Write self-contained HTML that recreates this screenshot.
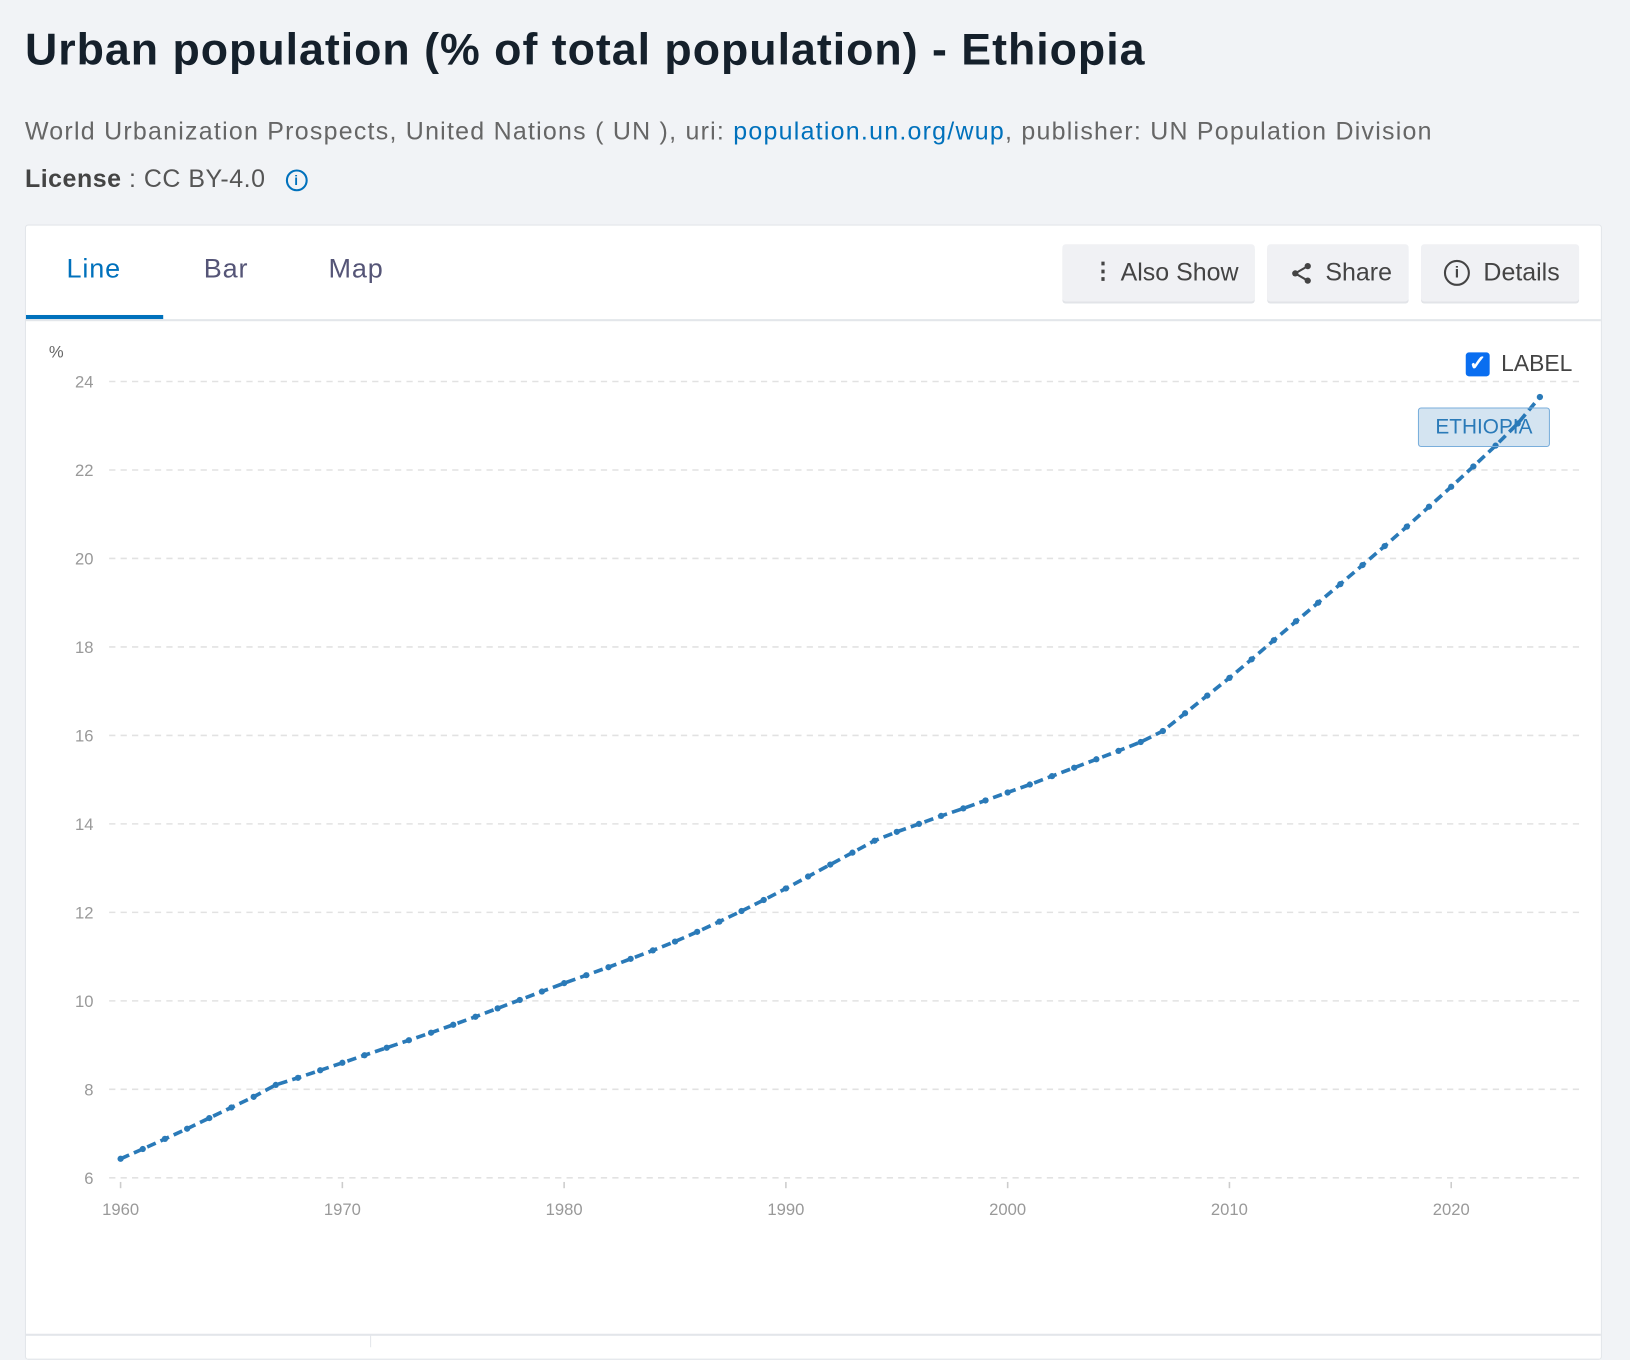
<!DOCTYPE html>
<html><head><meta charset="utf-8"><style>
html,body{margin:0;padding:0;width:1630px;height:1344px;overflow:hidden;background:#f1f3f6;font-family:"Liberation Sans",sans-serif}
#wrap{position:absolute;left:0;top:0;width:1568px;height:1293px;transform:scale(1.03954);transform-origin:0 0}
.abs{position:absolute;white-space:nowrap}
.btn{position:absolute;top:235px;height:55px;background:#f0f1f4;border-radius:3px;box-shadow:0 2px 0 #e2e4e8;font-size:24px;color:#444;line-height:55px}
</style></head><body>
<div id="wrap">
<div class="abs" style="left:24px;top:24px;font-size:43px;font-weight:bold;color:#15202b;letter-spacing:0.95px">Urban population (% of total population) - Ethiopia</div>
<div class="abs" style="left:24px;top:113px;font-size:24px;color:#666;letter-spacing:1.2px">World Urbanization Prospects, United Nations ( UN ), uri: <span style="color:#0071bc">population.un.org/wup</span>, publisher: UN Population Division</div>
<div class="abs" style="left:24px;top:159px;font-size:24px;color:#555;letter-spacing:0.5px"><b style="color:#444">License</b> : CC BY-4.0 <span style="display:inline-block;width:17px;height:17px;border:2px solid #0071bc;border-radius:50%;color:#0071bc;font-size:13px;line-height:17px;text-align:center;font-weight:bold;margin-left:12px;vertical-align:2px">i</span></div>
<div style="position:absolute;left:24px;top:216px;width:1515px;height:1090px;background:#fff;border:1px solid #e3e6ea;border-radius:3px"></div>
<div class="abs" style="left:64px;top:243px;font-size:26px;color:#0071bc;letter-spacing:0.8px">Line</div>
<div style="position:absolute;left:25px;top:303px;width:132px;height:4px;background:#0071bc"></div>
<div class="abs" style="left:196px;top:243px;font-size:26px;color:#557;letter-spacing:0.8px">Bar</div>
<div class="abs" style="left:316px;top:243px;font-size:26px;color:#557;letter-spacing:0.8px">Map</div>
<div style="position:absolute;left:25px;top:307px;width:1515px;height:2px;background:#e3e6ea"></div>
<div class="btn" style="left:1022px;width:185px"><span style="position:absolute;left:28px;font-weight:bold;font-size:22px;line-height:52px">⋮</span><span style="position:absolute;left:56px">Also Show</span></div>
<div class="btn" style="left:1219px;width:136px"><svg style="position:absolute;left:21px;top:16px" width="24" height="24" viewBox="0 0 24 24"><circle cx="18" cy="5" r="3" fill="#444"/><circle cx="6" cy="12" r="3" fill="#444"/><circle cx="18" cy="19" r="3" fill="#444"/><path d="M18 5L6 12L18 19" stroke="#444" stroke-width="2" fill="none"/></svg><span style="position:absolute;left:56px">Share</span></div>
<div class="btn" style="left:1367px;width:152px"><span style="position:absolute;left:22px;top:15px;width:21px;height:21px;border:2px solid #444;border-radius:50%;font-size:15px;line-height:21px;text-align:center;font-weight:bold">i</span><span style="position:absolute;left:60px">Details</span></div>
<svg id="chart" style="position:absolute;left:0;top:0" width="1568" height="1293"></svg>
<div style="position:absolute;left:1410px;top:339px;width:23px;height:23px;background:#0a6ef0;border-radius:3px;color:#fff;font-size:20px;line-height:23px;text-align:center;font-weight:bold">✓</div>
<div class="abs" style="left:1444px;top:337px;font-size:22px;color:#444">LABEL</div>
<div class="abs" style="left:1364px;top:392px;width:125px;height:36px;background:rgba(40,120,184,0.2);border:1px solid #7aaedb;border-radius:3px;color:#2a7ab8;font-size:20px;line-height:36px;text-align:center">ETHIOPIA</div>
<div style="position:absolute;left:25px;top:1283px;width:1515px;height:2px;background:#e3e6ea"></div>
<div style="position:absolute;left:356px;top:1284px;width:1px;height:12px;background:#e3e6ea"></div>
</div>
<script>
const years=[1960,1961,1962,1963,1964,1965,1966,1967,1968,1969,1970,1971,1972,1973,1974,1975,1976,1977,1978,1979,1980,1981,1982,1983,1984,1985,1986,1987,1988,1989,1990,1991,1992,1993,1994,1995,1996,1997,1998,1999,2000,2001,2002,2003,2004,2005,2006,2007,2008,2009,2010,2011,2012,2013,2014,2015,2016,2017,2018,2019,2020,2021,2022,2023,2024];
const values=[6.43,6.65,6.88,7.11,7.35,7.59,7.83,8.10,8.26,8.43,8.60,8.77,8.94,9.11,9.28,9.46,9.64,9.83,10.02,10.21,10.40,10.58,10.76,10.95,11.14,11.34,11.56,11.79,12.03,12.28,12.54,12.81,13.08,13.35,13.62,13.82,14.0,14.18,14.35,14.53,14.71,14.89,15.08,15.27,15.46,15.65,15.85,16.1,16.5,16.9,17.3,17.72,18.15,18.58,19.0,19.42,19.85,20.28,20.72,21.17,21.62,22.08,22.55,23.05,23.65];
const yTicks=[6,8,10,12,14,16,18,20,22,24];
const xTicks=[1960,1970,1980,1990,2000,2010,2020];
const NS='http://www.w3.org/2000/svg';
const svg=document.getElementById('chart');
const x=v=>116+(v-1960)*(1396-116)/60;
const y=v=>1133-(v-6)*(1133-367)/18;
function mk(t,a){const e=document.createElementNS(NS,t);for(const k in a)e.setAttribute(k,a[k]);svg.appendChild(e);return e;}
const unit=mk('text',{x:47,y:344,'font-size':16,fill:'#666','font-family':'Liberation Sans'});unit.textContent='%';


yTicks.forEach(t=>{
  const g=mk('line',{x1:105,x2:1520,y1:y(t),y2:y(t),stroke:'#e2e2e2','stroke-width':1.5,'stroke-dasharray':'6,5'});
  
  
  const l=mk('text',{x:90,y:y(t)+6,'text-anchor':'end','font-size':16,fill:'#999','font-family':'Liberation Sans'});
  l.textContent=t;
  
  
});
xTicks.forEach(t=>{
  const k=mk('line',{x1:x(t),x2:x(t),y1:1137,y2:1143,stroke:'#ccc','stroke-width':1.5});
  
  
  const l=mk('text',{x:x(t),y:1169,'text-anchor':'middle','font-size':16,fill:'#999','font-family':'Liberation Sans'});
  l.textContent=t;
  
  
});
const d=years.map((yr,i)=>(i?'L':'M')+x(yr).toFixed(1)+' '+y(values[i]).toFixed(1)).join(' ');
const p=mk('path',{d:d,fill:'none',stroke:'#2a7ab8','stroke-width':3.5,'stroke-dasharray':'9,5'});


years.forEach((yr,i)=>{
  const c=mk('circle',{cx:x(yr),cy:y(values[i]),r:3,fill:'#2a7ab8'});
  
  
});
</script>
</body></html>
